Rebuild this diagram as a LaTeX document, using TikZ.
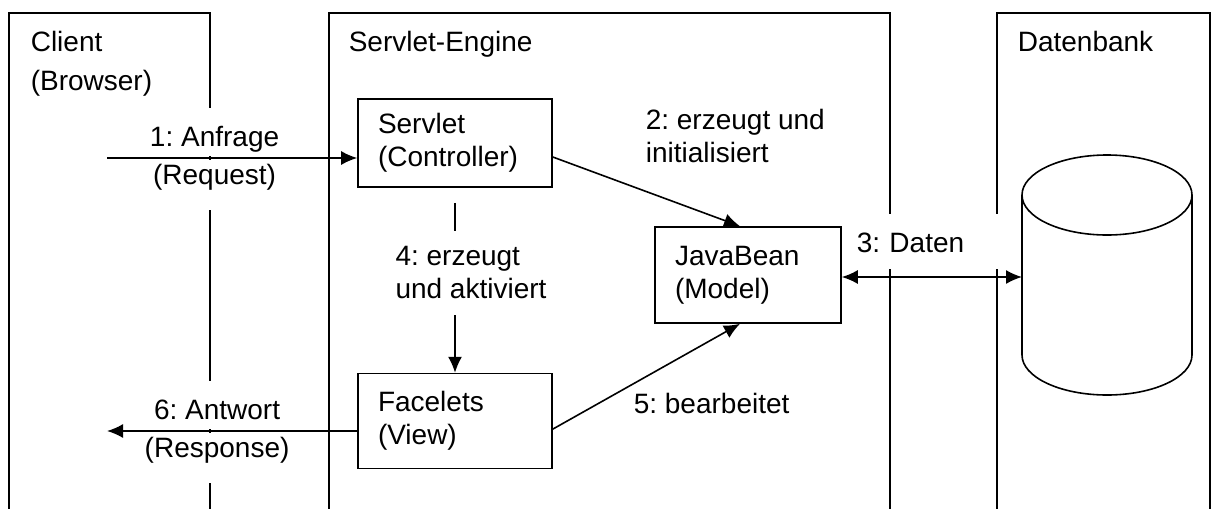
\documentclass[tikz,border=0pt]{standalone}
\usepackage{fontspec}
\setmainfont{Liberation Sans}
\usetikzlibrary{arrows.meta,positioning}
\frenchspacing

\tikzset{
  comp/.style={draw, align=left, inner xsep=20pt, inner ysep=0pt},
  upper/.style={fill=white, text height=35pt, text depth=7pt},
  lower/.style={fill=white, text height=22pt, text depth=22pt},
}

\begin{document}
\begin{tikzpicture}[x=1pt,y=-1pt,line width=1.6pt,
    >={Latex[length=16pt,width=14pt]},
    every node/.style={inner sep=3pt},
    font=\fontsize{28}{33}\selectfont]

  \useasboundingbox (0,0) rectangle (1211,509);
  \clip (0,0) rectangle (1211,509);

  % the three lanes, open at the bottom
  \draw (9,530) -- (9,13) -- (210,13) -- (210,530);
  \draw (329,530) -- (329,13) -- (890,13) -- (890,530);
  \draw (997,530) -- (997,13) -- (1210,13) -- (1210,530);

  \node[anchor=north west, align=left] (client) at (27,27) {Client\\[6pt](Browser)};
  \node[anchor=north west] (engine) at (345,27) {Servlet-Engine};
  \node[anchor=north west] (dbank)  at (1014,27) {Datenbank};

  % components
  \node[comp, text width=154pt, minimum height=88pt] (servlet) at (455,143) {Servlet\\(Controller)};
  \node[comp, text width=154pt, minimum height=95pt, below=185pt of servlet] (facelets) {Facelets\\(View)};
  \node[comp, text width=146pt, minimum height=96pt] (bean) at (748,275) {JavaBean\\(Model)};

  % database
  \draw (1022,195) -- (1022,355) arc[start angle=180, end angle=0, x radius=85, y radius=40] -- (1192,195);
  \draw (1107,195) ellipse [x radius=85, y radius=40];

  \coordinate (req)  at (107,158);
  \coordinate (resp) at (107,431);
  \coordinate (dbin) at (1022,277);

  \draw[->] (req) -- node[upper, above=1pt, pos=0.43] {1: Anfrage}
                     node[lower, below=1pt, pos=0.43] {(Request)} (req -| servlet.west);
  \draw[->] ([yshift=-14pt]servlet.east) -- ([xshift=-8pt]bean.north);
  \node[anchor=north west, align=left] (init) at (642,105) {2: erzeugt und\\initialisiert};

  \node[upper, text depth=14pt, text width=142pt, align=left, anchor=south west] (daten) at (853,270) {3: Daten};
  \draw[<->] (dbin -| bean.east) -- (dbin);

  \draw[->, shorten <=15pt] (servlet) -- node[fill=white, align=left, inner ysep=16pt, pos=0.46, xshift=16pt] {4: erzeugt\\und aktiviert} (facelets);

  \draw[->] ([yshift=-8pt]facelets.east) -- ([xshift=-8pt]bean.south);
  \node[anchor=base west] (edit) at (630,413) {5: bearbeitet};

  \draw[->] (resp -| facelets.west) -- node[upper, above=1pt, pos=0.56] {6: Antwort}
                                       node[lower, below=1pt, pos=0.56] {(Response)} (resp);
\end{tikzpicture}
\end{document}
